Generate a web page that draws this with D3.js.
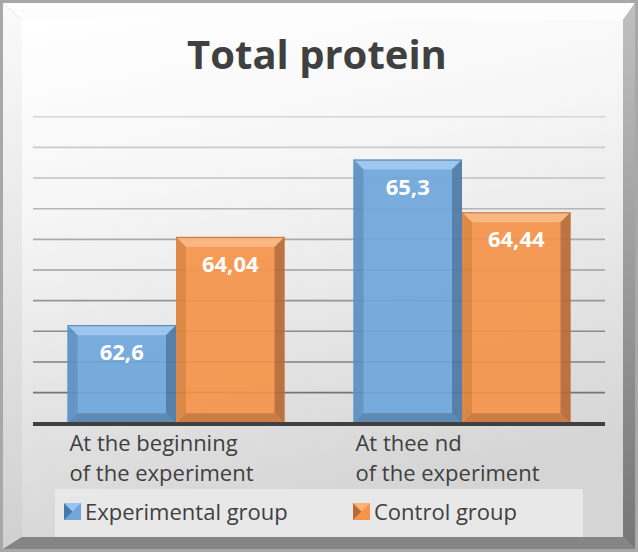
<!DOCTYPE html>
<html>
<head>
<meta charset="utf-8">
<script src="https://cdn.jsdelivr.net/npm/d3@7"></script>
<style>
  body { margin: 0; background: #fff; }
  svg { display: block; }
  text { font-family: "Open Sans", "Liberation Sans", sans-serif; }
</style>
</head>
<body>
<div id="chart"></div>
<script>
// Data
const categories = ["At the beginning\nof the experiment", "At thee nd\nof the experiment"];
const seriesNames = ["Experimental group", "Control group"];
const experimentalValues = [62.6, 65.3];
const controlValues = [64.04, 64.44];
const yTicks = [61, 61.5, 62, 62.5, 63, 63.5, 64, 64.5, 65, 65.5, 66];
const title = "Total protein";

const W = 638, H = 552;
const plot = { left: 33, right: 605, top: 116.7, bottom: 423.3 };

const palette = {
    "Experimental group": { main: "#6ea7dc", top: "#97c5f0", left: "#5a90c3", right: "#4a79a6", bottom: "#5383b0" },
    "Control group":      { main: "#f6944a", top: "#fab47a", left: "#dc813b", right: "#b86b34", bottom: "#c97639" }
};

const labelFormat = v => String(v).replace(".", ",");

const svg = d3.select("#chart").append("svg")
    .attr("width", W)
    .attr("height", H);

const defs = svg.append("defs");

// Panel background gradient
const bg = defs.append("linearGradient").attr("id", "panelBg")
    .attr("x1", 0).attr("y1", 0).attr("x2", 0.25).attr("y2", 1);
bg.append("stop").attr("offset", "0%").attr("stop-color", "#ffffff");
bg.append("stop").attr("offset", "35%").attr("stop-color", "#f6f6f6");
bg.append("stop").attr("offset", "100%").attr("stop-color", "#d5d5d5");

const leftBevel = defs.append("linearGradient").attr("id", "leftBevel")
    .attr("x1", 0).attr("y1", 0).attr("x2", 0).attr("y2", 1);
leftBevel.append("stop").attr("offset", "0%").attr("stop-color", "#fafafa");
leftBevel.append("stop").attr("offset", "100%").attr("stop-color", "#d0d0d0");

const rightBevel = defs.append("linearGradient").attr("id", "rightBevel")
    .attr("x1", 0).attr("y1", 0).attr("x2", 0).attr("y2", 1);
rightBevel.append("stop").attr("offset", "0%").attr("stop-color", "#c0c0c0");
rightBevel.append("stop").attr("offset", "100%").attr("stop-color", "#767676");

// Frame with bevel
svg.append("rect").attr("width", W).attr("height", H).attr("fill", "#a8a8a8");
const o = 3, inL = 22, inT = 20, inR = 623, inB = 537;
const frame = svg.append("g");
frame.append("polygon") // top
    .attr("points", [[o, o], [W - o, o], [inR, inT], [inL, inT]].join(" "))
    .attr("fill", "#fdfdfd");
frame.append("polygon") // left
    .attr("points", [[o, o], [inL, inT], [inL, inB], [o, H - o]].join(" "))
    .attr("fill", "url(#leftBevel)");
frame.append("polygon") // right
    .attr("points", [[W - o, o], [W - o, H - o], [inR, inB], [inR, inT]].join(" "))
    .attr("fill", "url(#rightBevel)");
frame.append("polygon") // bottom
    .attr("points", [[o, H - o], [inL, inB], [inR, inB], [W - o, H - o]].join(" "))
    .attr("fill", "#858585");
svg.append("rect")
    .attr("x", inL).attr("y", inT)
    .attr("width", inR - inL).attr("height", inB - inT)
    .attr("fill", "url(#panelBg)");

// Title
svg.append("text")
    .attr("x", 317).attr("y", 69)
    .attr("text-anchor", "middle")
    .attr("font-size", 40)
    .attr("font-weight", "bold")
    .attr("fill", "#404040")
    .text(title);

// Scales
const y = d3.scaleLinear()
    .domain([d3.min(yTicks), d3.max(yTicks)])
    .range([plot.bottom, plot.top]);

const x0 = d3.scaleBand()
    .domain(categories)
    .range([plot.left, plot.right])
    .paddingInner(0.241)
    .paddingOuter(0.1205);

const x1 = d3.scaleBand()
    .domain(seriesNames)
    .range([0, x0.bandwidth()]);

// Gridlines (darker towards the bottom)
const gridColor = d3.scaleLinear()
    .domain([plot.top, plot.bottom])
    .range(["#d6d6d6", "#6a6a6a"]);

const grid = svg.append("g");
grid.selectAll("line")
    .data(yTicks.slice(1))
    .join("line")
    .attr("x1", plot.left)
    .attr("x2", plot.right)
    .attr("y1", d => y(d))
    .attr("y2", d => y(d))
    .attr("stroke", d => gridColor(y(d)))
    .attr("stroke-width", 1.6);

// Bars
const rows = categories.map((c, i) => ({
    category: c,
    values: [
        { series: seriesNames[0], value: experimentalValues[i] },
        { series: seriesNames[1], value: controlValues[i] }
    ]
}));

const bevel = 10;
const groups = svg.append("g").selectAll("g")
    .data(rows)
    .join("g")
    .attr("transform", d => `translate(${x0(d.category)},0)`);

const bars = groups.selectAll("g.bar")
    .data(d => d.values)
    .join("g")
    .attr("class", "bar")
    .attr("opacity", 0.92);

bars.each(function(d) {
    const g = d3.select(this);
    const c = palette[d.series];
    const bx = x1(d.series), bw = x1.bandwidth();
    const by = y(d.value), bh = y(d3.min(yTicks)) - by;
    const b = bevel;
    g.append("rect").attr("x", bx).attr("y", by).attr("width", bw).attr("height", bh).attr("fill", c.main);
    g.append("polygon").attr("fill", c.top)
        .attr("points", [[bx, by], [bx + bw, by], [bx + bw - b, by + b], [bx + b, by + b]].join(" "));
    g.append("polygon").attr("fill", c.left)
        .attr("points", [[bx, by], [bx + b, by + b], [bx + b, by + bh - b], [bx, by + bh]].join(" "));
    g.append("polygon").attr("fill", c.right)
        .attr("points", [[bx + bw, by], [bx + bw, by + bh], [bx + bw - b, by + bh - b], [bx + bw - b, by + b]].join(" "));
    g.append("polygon").attr("fill", c.bottom)
        .attr("points", [[bx, by + bh], [bx + b, by + bh - b], [bx + bw - b, by + bh - b], [bx + bw, by + bh]].join(" "));
    g.append("line").attr("x1", bx).attr("x2", bx + bw).attr("y1", by + 0.5).attr("y2", by + 0.5)
        .attr("stroke", c.right).attr("stroke-width", 1);
});

// Value labels
groups.selectAll("text.value")
    .data(d => d.values)
    .join("text")
    .attr("class", "value")
    .attr("x", d => x1(d.series) + x1.bandwidth() / 2)
    .attr("y", d => y(d.value) + 35)
    .attr("text-anchor", "middle")
    .attr("font-size", 22)
    .attr("font-weight", "bold")
    .attr("fill", "#ffffff")
    .text(d => labelFormat(d.value));

// Category axis line
svg.append("line")
    .attr("x1", plot.left).attr("x2", plot.right)
    .attr("y1", plot.bottom + 0.7).attr("y2", plot.bottom + 0.7)
    .attr("stroke", "#404040")
    .attr("stroke-width", 4);

// Category labels
const catLabels = svg.append("g").selectAll("text")
    .data(categories)
    .join("text")
    .attr("x", d => x0(d) + 2)
    .attr("y", 451)
    .attr("font-size", 22)
    .attr("fill", "#404040");
catLabels.selectAll("tspan")
    .data(d => d.split("\n"))
    .join("tspan")
    .attr("x", function() { return d3.select(this.parentNode).attr("x"); })
    .attr("dy", (d, i) => i === 0 ? 0 : 30)
    .text(d => d);

// Legend
const legend = svg.append("g");
legend.append("rect")
    .attr("x", 55).attr("y", 489)
    .attr("width", 528).attr("height", 48)
    .attr("fill", "#e8e8e8");

const legendX = [64, 353];
const items = legend.selectAll("g")
    .data(seriesNames)
    .join("g")
    .attr("transform", (d, i) => `translate(${legendX[i]},503)`);

items.each(function(d) {
    const g = d3.select(this);
    const c = palette[d];
    const s = 17;
    g.append("rect").attr("width", s).attr("height", s).attr("fill", c.main);
    g.append("polygon").attr("points", [[0, 0], [s / 2, s / 2], [0, s]].join(" ")).attr("fill", c.right);
    g.append("polygon").attr("points", [[0, 0], [s, 0], [s / 2, s / 2]].join(" ")).attr("fill", c.top);
    g.append("text")
        .attr("x", s + 4)
        .attr("y", 17)
        .attr("font-size", 22)
        .attr("fill", "#404040")
        .text(d);
});
</script>
</body>
</html>
